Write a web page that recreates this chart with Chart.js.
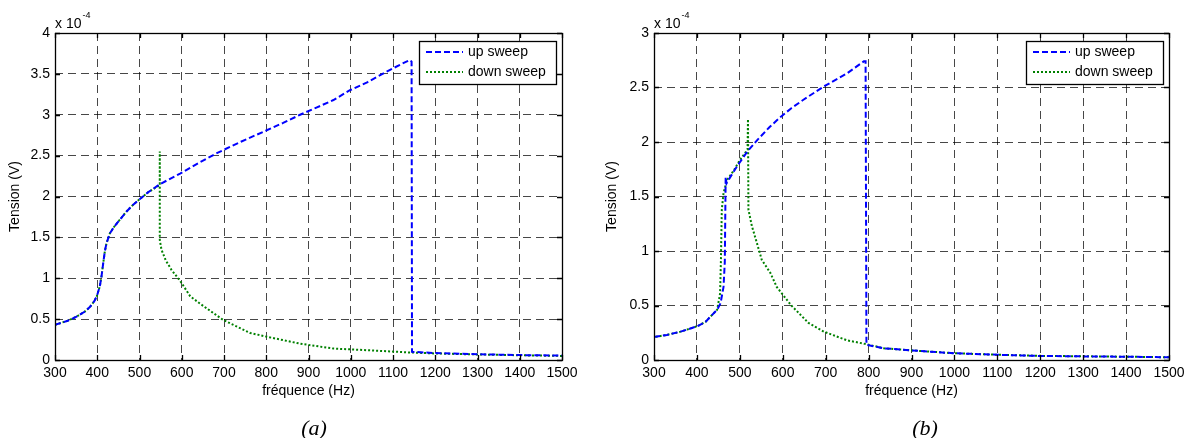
<!DOCTYPE html>
<html>
<head>
<meta charset="utf-8">
<script src="https://cdn.jsdelivr.net/npm/chart.js@4.4.0/dist/chart.umd.min.js"></script>
<style>
  body { margin: 0; background: #fff; }
  #wrap { position: relative; width: 1194px; height: 438px; overflow: hidden; }
  canvas { position: absolute; top: 0; }
  .cap { position: absolute; top: 415px; width: 100px; text-align: center; line-height: 22px;
         font: italic 22px "Liberation Serif", "Times New Roman", serif; color: #000; }
</style>
</head>
<body>
<div id="wrap">
  <canvas id="chartA" width="597" height="438" style="left:0"></canvas>
  <canvas id="chartB" width="597" height="438" style="left:597px"></canvas>
  <div class="cap" style="left:264px">(a)</div>
  <div class="cap" style="left:875px">(b)</div>
</div>
<script>
// axis ticks
var xTicks = [300, 400, 500, 600, 700, 800, 900, 1000, 1100, 1200, 1300, 1400, 1500];
var yTicksA = [0, 0.5, 1, 1.5, 2, 2.5, 3, 3.5, 4];
var yTicksB = [0, 0.5, 1, 1.5, 2, 2.5, 3];

// (a) values in 1e-4 V
var upFreqA = [300, 330, 351, 370, 383, 393, 399, 406, 410, 414, 418, 422, 430, 440, 454, 470, 485, 501, 520, 548, 570, 596, 640, 683, 740, 801, 840, 880, 920, 959, 998, 1040, 1093, 1120, 1140, 1144, 1145, 1200, 1300, 1400, 1500];
var upValA = [0.43, 0.48, 0.53, 0.59, 0.65, 0.72, 0.78, 0.90, 1.02, 1.18, 1.33, 1.43, 1.55, 1.63, 1.72, 1.82, 1.90, 1.97, 2.05, 2.15, 2.21, 2.28, 2.41, 2.53, 2.67, 2.81, 2.90, 3.00, 3.09, 3.18, 3.30, 3.40, 3.55, 3.62, 3.67, 3.65, 0.10, 0.085, 0.07, 0.06, 0.055];
var downFreqA = [1500, 1400, 1300, 1200, 1132, 1038, 959, 880, 801, 762, 698, 643, 620, 596, 576, 562, 552, 548, 548, 548, 520, 501, 485, 470, 454, 440, 430, 422, 418, 414, 410, 406, 399, 393, 383, 370, 351, 330, 300];
var downValA = [0.05, 0.058, 0.068, 0.08, 0.094, 0.12, 0.14, 0.20, 0.285, 0.33, 0.49, 0.69, 0.78, 0.97, 1.10, 1.22, 1.35, 1.47, 2.55, 2.14, 2.05, 1.97, 1.90, 1.82, 1.72, 1.63, 1.55, 1.43, 1.33, 1.18, 1.02, 0.90, 0.78, 0.72, 0.65, 0.59, 0.53, 0.48, 0.43];

// (b) values in 1e-4 V
var upFreqB = [300, 330, 362, 401, 420, 432, 447, 455, 462, 465, 466, 467, 469, 478, 494, 517, 541, 570, 595, 620, 649, 696, 750, 789, 793, 795, 836, 860, 930, 999, 1100, 1201, 1300, 1403, 1500];
var upValB = [0.21, 0.23, 0.26, 0.31, 0.35, 0.40, 0.46, 0.52, 0.67, 0.90, 1.30, 1.68, 1.62, 1.68, 1.78, 1.91, 2.02, 2.14, 2.23, 2.31, 2.39, 2.51, 2.63, 2.74, 2.74, 0.14, 0.107, 0.10, 0.08, 0.062, 0.048, 0.037, 0.033, 0.03, 0.025];
var downFreqB = [1500, 1400, 1300, 1200, 1100, 1000, 930, 860, 836, 789, 750, 696, 660, 640, 620, 586, 571, 551, 540, 528, 520, 519, 518, 501, 486, 470, 462, 458, 456, 454, 447, 432, 420, 401, 362, 330, 300];
var downValB = [0.025, 0.03, 0.034, 0.038, 0.048, 0.062, 0.08, 0.10, 0.107, 0.15, 0.18, 0.26, 0.34, 0.42, 0.50, 0.67, 0.80, 0.92, 1.07, 1.23, 1.38, 2.21, 1.93, 1.84, 1.74, 1.65, 1.53, 1.38, 0.92, 0.61, 0.46, 0.40, 0.35, 0.31, 0.26, 0.23, 0.21];

var seriesLabels = ['up sweep', 'down sweep'];
var FONT = '"Liberation Sans", Arial, sans-serif';

function toPoints(xs, ys) {
    var pts = [];
    for (var i = 0; i < xs.length; i++) {
        pts.push({ x: xs[i], y: ys[i] });
    }
    return pts;
}

// box, inward ticks, exponent label and legend like matlab
var matlabFrame = {
    id: 'matlabFrame',
    afterDraw: function (chart) {
        var ctx = chart.ctx;
        var a = chart.chartArea;
        var xs = chart.scales.x, ys = chart.scales.y;
        ctx.save();
        ctx.strokeStyle = '#000';
        ctx.lineWidth = 1.3;
        ctx.strokeRect(a.left + 0.5, a.top + 0.5, a.right - a.left, a.bottom - a.top);

        ctx.beginPath();
        xs.ticks.forEach(function (t) {
            var px = Math.round(xs.getPixelForValue(t.value)) + 0.5;
            ctx.moveTo(px, a.bottom); ctx.lineTo(px, a.bottom - 5);
            ctx.moveTo(px, a.top); ctx.lineTo(px, a.top + 5);
        });
        ys.ticks.forEach(function (t) {
            var py = Math.round(ys.getPixelForValue(t.value)) + 0.5;
            ctx.moveTo(a.left, py); ctx.lineTo(a.left + 5, py);
            ctx.moveTo(a.right, py); ctx.lineTo(a.right - 5, py);
        });
        ctx.stroke();

        // x 10^-4
        ctx.fillStyle = '#000';
        ctx.textBaseline = 'alphabetic';
        ctx.textAlign = 'left';
        ctx.font = '14px ' + FONT;
        ctx.fillText('x 10', a.left, 28);
        var w = ctx.measureText('x 10').width;
        ctx.font = '9px ' + FONT;
        ctx.fillText('-4', a.left + w + 1, 18);

        // legend box
        var lw = 137, lh = 43;
        var lx = a.right - 6 - lw, ly = a.top + 8;
        ctx.fillStyle = '#fff';
        ctx.fillRect(lx, ly, lw, lh);
        ctx.strokeStyle = '#000';
        ctx.lineWidth = 1.3;
        ctx.strokeRect(lx + 0.5, ly + 0.5, lw, lh);
        chart.data.datasets.forEach(function (ds, i) {
            var y = ly + 11 + i * 20;
            ctx.save();
            ctx.strokeStyle = ds.borderColor;
            ctx.lineWidth = ds.borderWidth;
            ctx.setLineDash(ds.borderDash);
            ctx.beginPath();
            ctx.moveTo(lx + 7, y);
            ctx.lineTo(lx + 44, y);
            ctx.stroke();
            ctx.restore();
            ctx.fillStyle = '#000';
            ctx.font = '14px ' + FONT;
            ctx.textBaseline = 'middle';
            ctx.fillText(ds.label, lx + 49, y);
        });
        ctx.restore();
    }
};

function makeChart(id, upF, upV, downF, downV, yTicks, leftWidth, rightPad) {
    var yMax = yTicks[yTicks.length - 1];
    return new Chart(document.getElementById(id).getContext('2d'), {
        type: 'line',
        data: {
            datasets: [{
                label: seriesLabels[0],
                data: toPoints(upF, upV),
                borderColor: '#0000ff',
                borderWidth: 2,
                borderDash: [6, 3],
                pointRadius: 0,
                fill: false,
                tension: 0
            },
            {
                label: seriesLabels[1],
                data: toPoints(downF, downV),
                borderColor: '#008000',
                borderWidth: 2,
                borderDash: [2, 2],
                pointRadius: 0,
                fill: false,
                tension: 0
            }]
        },
        options: {
            responsive: false,
            animation: false,
            layout: { padding: { top: 33, right: rightPad, left: 0, bottom: 0 } },
            plugins: {
                legend: { display: false },
                tooltip: { enabled: false }
            },
            scales: {
                x: {
                    type: 'linear',
                    min: xTicks[0],
                    max: xTicks[xTicks.length - 1],
                    afterBuildTicks: function (s) {
                        s.ticks = xTicks.map(function (v) { return { value: v }; });
                    },
                    afterFit: function (s) { s.height = 78; },
                    ticks: {
                        color: '#000',
                        font: { size: 14, family: FONT },
                        padding: 5,
                        maxRotation: 0,
                        callback: function (v) { return String(v); }
                    },
                    grid: { color: 'rgba(0,0,0,0.72)', lineWidth: 1, drawTicks: false },
                    border: { display: false, dash: [8, 5] },
                    title: {
                        display: true,
                        text: 'fréquence (Hz)',
                        color: '#000',
                        font: { size: 14, family: FONT },
                        padding: { top: 0, bottom: 38 }
                    }
                },
                y: {
                    type: 'linear',
                    min: yTicks[0],
                    max: yMax,
                    afterBuildTicks: function (s) {
                        s.ticks = yTicks.map(function (v) { return { value: v }; });
                    },
                    afterFit: function (s) { s.width = leftWidth; },
                    ticks: {
                        color: '#000',
                        font: { size: 14, family: FONT },
                        padding: 5,
                        callback: function (v) { return String(v); }
                    },
                    grid: { color: 'rgba(0,0,0,0.72)', lineWidth: 1, drawTicks: false },
                    border: { display: false, dash: [8, 5] },
                    title: {
                        display: true,
                        text: 'Tension (V)',
                        color: '#000',
                        font: { size: 14, family: FONT },
                        padding: { top: 7, bottom: 0 }
                    }
                }
            }
        },
        plugins: [matlabFrame]
    });
}

makeChart('chartA', upFreqA, upValA, downFreqA, downValA, yTicksA, 55, 35);
makeChart('chartB', upFreqB, upValB, downFreqB, downValB, yTicksB, 57, 25);
</script>
</body>
</html>
